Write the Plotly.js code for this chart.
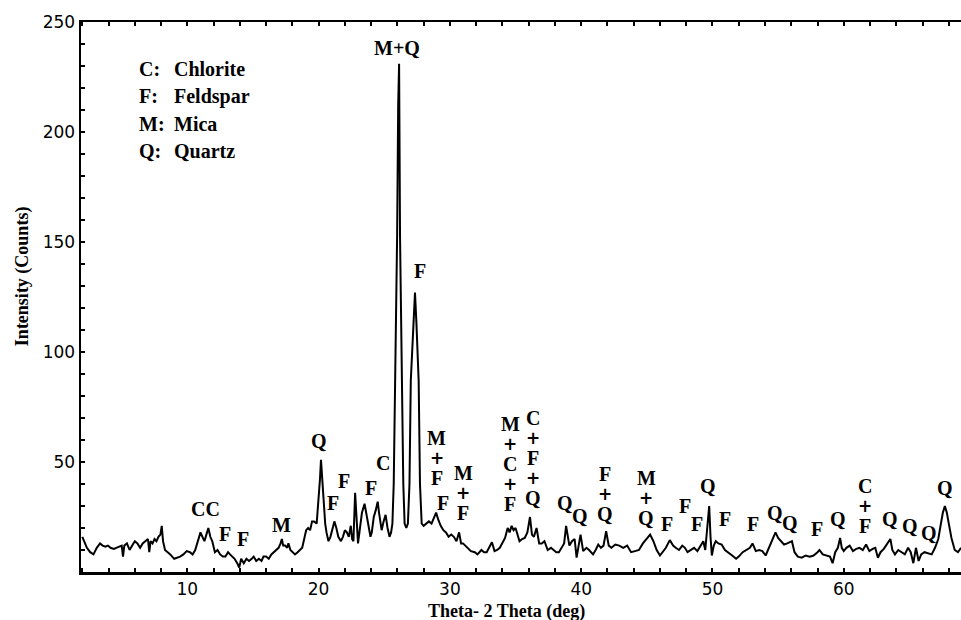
<!DOCTYPE html>
<html><head><meta charset="utf-8">
<script src="https://cdn.plot.ly/plotly-3.0.1.min.js"></script>
<style>html,body{margin:0;padding:0;background:#fff}#chart{width:961px;height:620px}</style>
</head><body><div id="chart"></div>
<script>
// 2-theta (deg) positions of the digitised pattern
const twoTheta = [
2.0,2.15,2.35,2.6,2.85,3.1,3.35,3.55,3.75,3.95,4.15,4.4,4.65,4.85,5.0,5.1,5.2,5.4,5.6,5.8,
6.0,6.2,6.4,6.6,6.8,7.0,7.1,7.2,7.35,7.5,7.65,7.8,7.95,8.05,8.15,8.3,8.5,8.7,9.0,9.25,
9.45,9.7,9.95,10.2,10.4,10.6,10.8,11.0,11.15,11.3,11.45,11.6,11.75,11.9,12.1,12.3,12.5,12.7,12.9,13.1,
13.25,13.4,13.6,13.8,13.95,14.1,14.3,14.5,14.7,14.9,15.05,15.25,15.45,15.65,15.8,16.0,16.2,16.4,16.6,16.8,
16.95,17.1,17.2,17.3,17.45,17.6,17.7,17.85,18.0,18.2,18.4,18.6,18.75,18.9,19.05,19.2,19.35,19.5,19.65,19.85,
19.98,20.1,20.18,20.28,20.4,20.5,20.6,20.75,20.9,21.05,21.2,21.35,21.5,21.7,21.85,22.0,22.15,22.3,22.45,22.55,
22.65,22.78,22.9,23.0,23.15,23.3,23.5,23.65,23.8,23.95,24.05,24.2,24.35,24.5,24.6,24.8,24.95,25.1,25.25,25.4,
25.52,25.62,25.72,25.85,25.98,26.06,26.13,26.2,26.33,26.45,26.55,26.68,26.8,26.92,27.02,27.2,27.34,27.45,27.62,27.72,
27.85,28.0,28.2,28.4,28.6,28.8,28.95,29.1,29.3,29.5,29.7,29.9,30.1,30.3,30.5,30.7,30.85,31.0,31.3,31.6,
31.9,32.1,32.4,32.6,32.8,33.0,33.2,33.4,33.6,33.8,34.0,34.2,34.4,34.55,34.7,34.85,35.0,35.15,35.3,35.5,
35.7,35.9,36.1,36.25,36.4,36.6,36.8,37.0,37.2,37.45,37.7,37.9,38.1,38.3,38.5,38.7,38.85,38.95,39.1,39.3,
39.5,39.65,39.8,39.95,40.15,40.4,40.6,40.9,41.1,41.3,41.5,41.7,41.9,42.1,42.3,42.6,42.9,43.2,43.5,43.8,
44.1,44.4,44.7,44.95,45.25,45.5,45.75,46.0,46.2,46.45,46.75,47.0,47.2,47.45,47.7,47.9,48.1,48.35,48.6,48.85,
49.1,49.3,49.45,49.6,49.75,49.85,49.95,50.1,50.25,50.45,50.7,50.95,51.2,51.5,51.8,52.0,52.3,52.6,52.85,53.05,
53.3,53.55,53.8,54.05,54.3,54.5,54.65,54.8,55.0,55.2,55.45,55.7,55.9,56.05,56.25,56.5,56.8,57.1,57.4,57.7,
58.0,58.15,58.4,58.7,58.95,59.15,59.35,59.55,59.72,59.85,60.0,60.2,60.45,60.7,60.95,61.2,61.45,61.7,61.95,62.2,
62.4,62.6,62.8,63.05,63.3,63.55,63.7,63.9,64.15,64.4,64.65,64.9,65.1,65.3,65.5,65.7,65.9,66.15,66.4,66.7,
66.95,67.2,67.4,67.55,67.7,67.85,68.0,68.2,68.45,68.7,68.93
];
// intensity (counts)
const counts = [
16,14,11,9,8,11,13,12,11.5,12,11,10.5,11,11.5,12,7,12,13,10,12,
14,13,11,13,14,15,9,14,13,15,14,16,17,21,14,10,9,8,6,6.5,
7,8,9.5,9,8,10,14,18,16,14,17,20,16,14,9,10,8,7,7,9,
8,7,6,4,2,6,4,6,5,6,7,5,6,5,7,7,6,8,9,10,
11,13,15,12,12,11,13,10,9,8,9,10,11,15,19,20,19,23,23,22,
31,42,51,40,29,22,18,14,16,19,23,20,16,14,16,19,18,16,21,15,
14,36,20,13,20,27,31,26,21,16,18,25,28,32,27,19,23,26,20,16,
18,22,40,90,153,212,231,153,90,40,22,20,22,40,87,113,127,113,87,40,
22,21,22,23,22,25,27,24,21,19,18,16,17,16,14,18,13,13,11,9.5,
9,8,10,9,9,11,13.5,9.5,10,11,13,15.5,20,18,21,19,20,17,14,15,
15.5,18,25,17,16,20,13,13,14,10,11,10,9,9,11,13,21,17,12,14,
15,6.5,12,17,9.5,11,10,8,10,12.5,11,12,18.5,12,11,12.5,12,11,12,9,
9.5,10,13,15,17,14,10,7.5,9,11,14.5,12,11,10,12,11,9,10,11,9.5,
12,14,10,20,30,16,7.5,12,14,13,12.5,10,9,7.5,6,7,9,10,11,13,
9.5,10,9.5,7.5,11,14,16,18,15.5,14,12.5,13,13.5,14,9,7,6.5,7.5,7,7.5,
9,10,8,7.5,7,4,9,11,15.5,11,9.5,11,12,9.5,10.5,11,10,12.5,9.5,10.5,
11,6.5,9,10.5,12.5,15,10,8,10,9,8,11,9,4,11,5,8,9,8.5,8,
11,15,22,27,30,27,22,15.5,10,9,11
];
// mineral key
const legendCodes = ["C:", "F:", "M:", "Q:"];
const legendNames = ["Chlorite", "Feldspar", "Mica", "Quartz"];
// single peak labels: text, 2-theta, height
const peakText = ["M+Q","F","Q","CC","F","F","M","F","F","F","C","F","Q","Q","F","F","F","Q","F","F","Q","Q","F","Q","Q","Q","Q","Q"];
const peakX = [25.97,27.72,20.03,11.35,12.87,14.24,17.14,21.1,21.93,23.99,24.9,29.47,38.77,39.91,46.53,47.9,48.82,49.66,50.95,53.08,54.76,55.9,57.96,59.56,63.52,65.04,66.49,67.71];
const peakY = [238,136.8,59.5,28.6,17.3,15,21.4,31.4,41.4,38.2,49.5,31.4,31.4,25.5,21.8,30,21.8,39,24,21.8,26.8,22.3,19.5,24,24,20.9,17.7,38.2];
// stacked (multi-mineral) labels: text, 2-theta, height of lowest letter
const stackText = ["M+F","M+F","M+C+F","C+F+Q","F+Q","M+Q","C+F"];
const stackX = [29.0,31.0,34.58,36.33,41.81,44.94,61.62];
const stackY = [42.7,26.8,30.9,33.6,26.4,24.5,20.9];
// axis ticks (every tick mark, labels only on the major ones)
const xTickVals = [2,4,6,8,10,12,14,16,18,20,22,24,26,28,30,32,34,36,38,40,42,44,46,48,50,52,54,56,58,60,62,64,66,68];
const xTickText = ["","","","","10","","","","","20","","","","","30","","","","","40","","","","","50","","","","","60","","","","",""];
const yTickVals = [10,20,30,40,50,60,70,80,90,100,110,120,130,140,150,160,170,180,190,200,210,220,230,240,250];
const yTickText = ["","","","","50","","","","","100","","","","","150","","","","","200","","","","","250"];

const serif = "Liberation Serif, Times New Roman, serif";
const labFont = {family: serif, size: 20, color: "#000", weight: 700};
const plusFont = {family: "DejaVu Sans, sans-serif", size: 17, color: "#000", weight: 700};
const ann = [];
peakText.forEach((t, i) => ann.push({x: peakX[i], y: peakY[i], text: t, showarrow: false,
  xanchor: "center", yanchor: "middle", font: labFont}));
stackText.forEach((t, i) => {
  const chars = t.split("").reverse();
  chars.forEach((c, k) => ann.push({x: stackX[i], y: stackY[i], yshift: 20 * k, text: c,
    showarrow: false, xanchor: "center", yanchor: "middle", font: c === "+" ? plusFont : labFont}));
});
const legRowY = [228.5, 216.2, 203.5, 191.2];
legendCodes.forEach((c, i) => {
  ann.push({x: 6.17, y: legRowY[i], text: c, showarrow: false, xanchor: "left", yanchor: "middle", font: labFont});
  ann.push({x: 8.84, y: legRowY[i], text: legendNames[i], showarrow: false, xanchor: "left", yanchor: "middle", font: labFont});
});
ann.push({xref: "paper", yref: "paper", x: 0.484, y: -0.072, text: "Theta- 2 Theta (deg)", showarrow: false,
  xanchor: "center", yanchor: "middle", font: {family: serif, size: 18, color: "#000", weight: 700}});
ann.push({xref: "paper", yref: "paper", x: -0.067, y: 0.538, text: "Intensity (Counts)", showarrow: false, textangle: -90,
  xanchor: "center", yanchor: "middle", font: {family: serif, size: 18, color: "#000", weight: 700}});

const trace = {x: twoTheta, y: counts, type: "scatter", mode: "lines",
  line: {color: "#000", width: 2}, hoverinfo: "skip"};

const layout = {
  width: 961, height: 620,
  margin: {l: 81, r: 0, t: 22, b: 48},
  paper_bgcolor: "#fff", plot_bgcolor: "#fff",
  showlegend: false,
  xaxis: {range: [1.9, 68.93], tickmode: "array", tickvals: xTickVals, ticktext: xTickText,
    ticks: "inside", ticklen: 4, tickwidth: 2, tickcolor: "#000",
    showline: true, linewidth: 2.5, linecolor: "#000", mirror: "ticks", showgrid: false, zeroline: false,
    tickfont: {family: "DejaVu Sans, sans-serif", size: 17, color: "#000"}},
  yaxis: {range: [0, 250], tickmode: "array", tickvals: yTickVals, ticktext: yTickText,
    ticks: "inside", ticklen: 4, tickwidth: 2, tickcolor: "#000",
    showline: true, linewidth: 2.5, linecolor: "#000", showgrid: false, zeroline: false,
    tickfont: {family: "DejaVu Sans, sans-serif", size: 17, color: "#000"}},
  annotations: ann
};
Plotly.newPlot("chart", [trace], layout, {staticPlot: true, displayModeBar: false});
</script></body></html>
